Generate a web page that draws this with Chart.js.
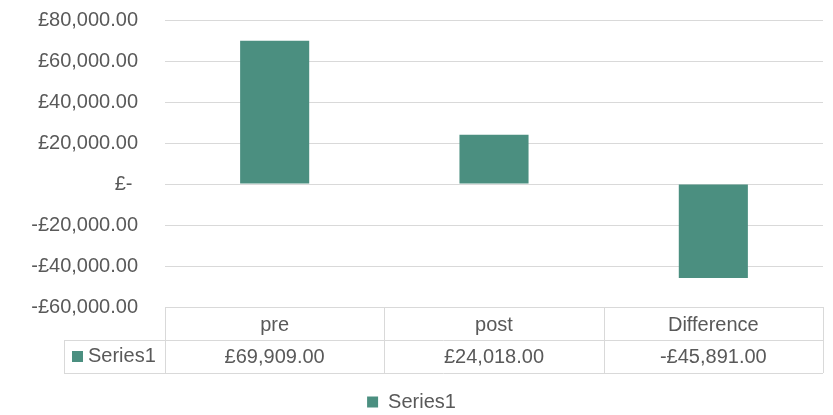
<!DOCTYPE html>
<html>
<head>
<meta charset="utf-8">
<script src="https://cdn.jsdelivr.net/npm/chart.js@4.4.1/dist/chart.umd.min.js"></script>
<style>
  html, body { margin: 0; padding: 0; background: #ffffff; }
  #wrap { width: 833px; height: 415px; }
</style>
</head>
<body>
<div id="wrap"><canvas id="chart" width="833" height="415"></canvas></div>
<script>
// Chart values
const categories = ['pre', 'post', 'Difference'];
const seriesName = 'Series1';
const seriesValues = [69909, 24018, -45891];
const axisMin = -60000;
const axisMax = 80000;
const axisStep = 20000;

const BAR_COLOR = '#4b8f80';
const TEXT_COLOR = '#595959';
const LINE_COLOR = '#d9d9d9';
const FONT_FAMILY = '"Liberation Sans", Arial, sans-serif';
const FONT_SIZE = 20;

// Accounting-style currency: £1,234.00, -£1,234.00, £- for zero
function currency(v) {
  if (v === 0) return '£- ';
  const abs = Math.abs(v);
  const parts = abs.toFixed(2).split('.');
  parts[0] = parts[0].replace(/\B(?=(\d{3})+(?!\d))/g, ',');
  return (v < 0 ? '-' : '') + '£' + parts[0] + '.' + parts[1];
}

// Data table under the plot: header row of categories, value row with legend key
const dataTablePlugin = {
  id: 'dataTable',
  afterDraw(chart) {
    const ctx = chart.ctx;
    const area = chart.chartArea;
    const xs = chart.scales.x;
    const rowH = 33;
    const keyCellW = 101;
    const top = area.bottom;
    const mid = top + rowH;
    const bot = top + rowH * 2;
    const colW = (area.right - area.left) / categories.length;
    const keyLeft = area.left - keyCellW;

    ctx.save();
    ctx.strokeStyle = LINE_COLOR;
    ctx.lineWidth = 1;
    ctx.beginPath();
    // horizontal rules
    ctx.moveTo(area.left, top + 0.5); ctx.lineTo(area.right, top + 0.5);
    ctx.moveTo(keyLeft, mid + 0.5); ctx.lineTo(area.right, mid + 0.5);
    ctx.moveTo(keyLeft, bot + 0.5); ctx.lineTo(area.right, bot + 0.5);
    // vertical rules
    ctx.moveTo(keyLeft + 0.5, mid); ctx.lineTo(keyLeft + 0.5, bot);
    for (let i = 0; i <= categories.length; i++) {
      const x = Math.round(area.left + colW * i) + 0.5;
      ctx.moveTo(x, top); ctx.lineTo(x, bot);
    }
    ctx.stroke();

    ctx.fillStyle = TEXT_COLOR;
    ctx.font = FONT_SIZE + 'px ' + FONT_FAMILY;
    ctx.textAlign = 'center';
    ctx.textBaseline = 'middle';
    categories.forEach((c, i) => {
      const cx = xs.getPixelForValue(i);
      ctx.fillText(c, cx, top + rowH / 2 + 2);
      ctx.fillText(currency(seriesValues[i]), cx, mid + rowH / 2 + 1);
    });

    // legend key in the value row
    ctx.fillStyle = BAR_COLOR;
    ctx.fillRect(keyLeft + 8, mid + 11, 11, 11);
    ctx.fillStyle = TEXT_COLOR;
    ctx.textAlign = 'left';
    ctx.fillText(seriesName, keyLeft + 24, mid + rowH / 2);
    ctx.restore();
  }
};

new Chart(document.getElementById('chart'), {
  type: 'bar',
  data: {
    labels: categories,
    datasets: [{
      label: seriesName,
      data: seriesValues,
      backgroundColor: BAR_COLOR,
      borderWidth: 0,
      categoryPercentage: 1.0,
      barPercentage: 0.315
    }]
  },
  options: {
    responsive: false,
    animation: false,
    devicePixelRatio: 1,
    layout: { padding: { top: 0, right: 10, left: 0, bottom: -7 } },
    plugins: {
      tooltip: { enabled: false },
      legend: {
        display: true,
        position: 'bottom',
        labels: {
          color: TEXT_COLOR,
          font: { family: FONT_FAMILY, size: FONT_SIZE },
          boxWidth: 11,
          boxHeight: 11,
          padding: 4
        }
      }
    },
    scales: {
      x: {
        display: true,
        grid: { display: false, drawTicks: false },
        border: { display: false },
        ticks: { display: false },
        afterFit(scale) { scale.height = 81; }
      },
      y: {
        min: axisMin,
        max: axisMax,
        grid: { color: LINE_COLOR, lineWidth: 1, drawTicks: false },
        border: { display: false },
        ticks: {
          stepSize: axisStep,
          padding: 27,
          color: TEXT_COLOR,
          font: { family: FONT_FAMILY, size: FONT_SIZE },
          callback: (v) => currency(v)
        },
        afterFit(scale) {
          scale.width = 165;
          // room above the top tick label only
          scale.paddingTop = 20;
          scale.paddingBottom = 0;
        }
      }
    }
  },
  plugins: [dataTablePlugin]
});
</script>
</body>
</html>
